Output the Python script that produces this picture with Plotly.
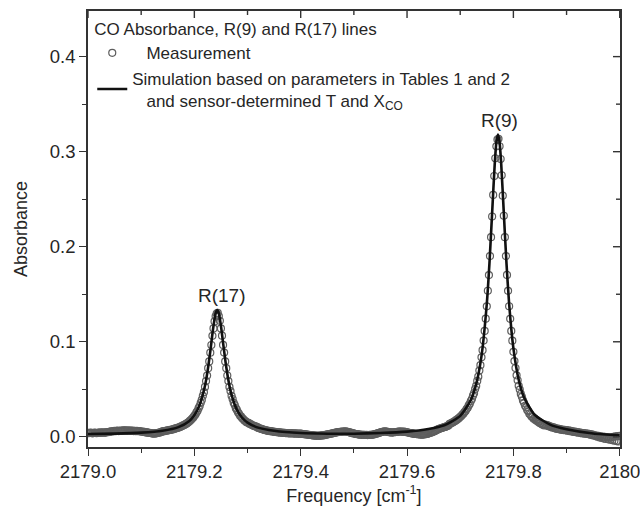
import numpy as np
import plotly.graph_objects as go

# Measured CO absorbance, sampled on a uniform frequency grid (cm^-1)
meas_start = 2179.0
meas_step = 0.002
meas_abs = [
    0.0042, 0.0039, 0.0044, 0.0041, 0.0037, 0.0040, 0.0045, 0.0043, 0.0038, 0.0041,
    0.0043, 0.0046, 0.0041, 0.0044, 0.0048, 0.0045, 0.0042, 0.0047, 0.0050, 0.0048,
    0.0052, 0.0055, 0.0058, 0.0056, 0.0060, 0.0063, 0.0059, 0.0062, 0.0065, 0.0061,
    0.0064, 0.0066, 0.0062, 0.0067, 0.0065, 0.0069, 0.0066, 0.0063, 0.0067, 0.0064,
    0.0066, 0.0062, 0.0065, 0.0061, 0.0064, 0.0060, 0.0063, 0.0059, 0.0061, 0.0058,
    0.0056, 0.0053, 0.0055, 0.0050, 0.0047, 0.0049, 0.0044, 0.0041, 0.0043, 0.0039,
    0.0037, 0.0034, 0.0036, 0.0033, 0.0038, 0.0040, 0.0042, 0.0045, 0.0047, 0.0050,
    0.0057, 0.0060, 0.0059, 0.0064, 0.0065, 0.0069, 0.0068, 0.0073, 0.0072, 0.0077,
    0.0081, 0.0082, 0.0088, 0.0089, 0.0094, 0.0098, 0.0100, 0.0107, 0.0110, 0.0117,
    0.0123, 0.0127, 0.0136, 0.0141, 0.0151, 0.0158, 0.0170, 0.0179, 0.0193, 0.0204,
    0.0221, 0.0234, 0.0257, 0.0274, 0.0301, 0.0324, 0.0358, 0.0388, 0.0431, 0.0470,
    0.0525, 0.0587, 0.0644, 0.0722, 0.0793, 0.0885, 0.0966, 0.1063, 0.1141, 0.1214,
    0.1268, 0.1297, 0.1304, 0.1270, 0.1221, 0.1141, 0.1064, 0.0967, 0.0886, 0.0793,
    0.0722, 0.0645, 0.0587, 0.0525, 0.0481, 0.0431, 0.0398, 0.0358, 0.0334, 0.0301,
    0.0283, 0.0258, 0.0243, 0.0222, 0.0212, 0.0195, 0.0187, 0.0172, 0.0166, 0.0153,
    0.0150, 0.0147, 0.0136, 0.0134, 0.0124, 0.0122, 0.0114, 0.0112, 0.0105, 0.0104,
    0.0094, 0.0090, 0.0087, 0.0083, 0.0079, 0.0076, 0.0072, 0.0070, 0.0066, 0.0064,
    0.0062, 0.0059, 0.0061, 0.0056, 0.0055, 0.0053, 0.0052, 0.0050, 0.0049, 0.0047,
    0.0046, 0.0044, 0.0045, 0.0042, 0.0041, 0.0043, 0.0040, 0.0038, 0.0039, 0.0037,
    0.0036, 0.0038, 0.0035, 0.0037, 0.0034, 0.0036, 0.0033, 0.0035, 0.0032, 0.0034,
    0.0033, 0.0031, 0.0030, 0.0028, 0.0027, 0.0025, 0.0024, 0.0022, 0.0021, 0.0019,
    0.0018, 0.0016, 0.0015, 0.0013, 0.0012, 0.0011, 0.0012, 0.0010, 0.0013, 0.0012,
    0.0015, 0.0017, 0.0016, 0.0020, 0.0022, 0.0025, 0.0027, 0.0030, 0.0032, 0.0035,
    0.0037, 0.0040, 0.0042, 0.0045, 0.0047, 0.0049, 0.0051, 0.0053, 0.0052, 0.0055,
    0.0056, 0.0054, 0.0057, 0.0055, 0.0053, 0.0050, 0.0047, 0.0044, 0.0040, 0.0038,
    0.0035, 0.0032, 0.0030, 0.0028, 0.0026, 0.0024, 0.0023, 0.0021, 0.0022, 0.0020,
    0.0021, 0.0019, 0.0020, 0.0018, 0.0019, 0.0021, 0.0020, 0.0022, 0.0024, 0.0026,
    0.0029, 0.0032, 0.0036, 0.0040, 0.0043, 0.0047, 0.0050, 0.0053, 0.0055, 0.0057,
    0.0056, 0.0054, 0.0051, 0.0049, 0.0047, 0.0046, 0.0045, 0.0047, 0.0048, 0.0050,
    0.0051, 0.0053, 0.0055, 0.0054, 0.0056, 0.0055, 0.0053, 0.0054, 0.0052, 0.0050,
    0.0048, 0.0045, 0.0043, 0.0040, 0.0038, 0.0035, 0.0033, 0.0031, 0.0030, 0.0029,
    0.0028, 0.0026, 0.0025, 0.0024, 0.0023, 0.0024, 0.0025, 0.0027, 0.0029, 0.0031,
    0.0036, 0.0039, 0.0042, 0.0046, 0.0050, 0.0055, 0.0060, 0.0066, 0.0072, 0.0078,
    0.0083, 0.0087, 0.0090, 0.0095, 0.0097, 0.0103, 0.0104, 0.0111, 0.0113, 0.0120,
    0.0136, 0.0139, 0.0147, 0.0150, 0.0160, 0.0163, 0.0175, 0.0179, 0.0191, 0.0197,
    0.0211, 0.0218, 0.0234, 0.0242, 0.0260, 0.0272, 0.0292, 0.0306, 0.0330, 0.0348,
    0.0377, 0.0398, 0.0433, 0.0459, 0.0502, 0.0536, 0.0588, 0.0633, 0.0697, 0.0754,
    0.0836, 0.0912, 0.1013, 0.1114, 0.1243, 0.1373, 0.1537, 0.1702, 0.1902, 0.2101,
    0.2318, 0.2545, 0.2744, 0.2931, 0.3056, 0.3128, 0.3135, 0.3057, 0.2923, 0.2752,
    0.2537, 0.2326, 0.2101, 0.1902, 0.1703, 0.1536, 0.1374, 0.1242, 0.1114, 0.1012,
    0.0894, 0.0797, 0.0724, 0.0647, 0.0595, 0.0537, 0.0497, 0.0451, 0.0421, 0.0383,
    0.0358, 0.0327, 0.0310, 0.0281, 0.0268, 0.0244, 0.0235, 0.0214, 0.0208, 0.0190,
    0.0192, 0.0175, 0.0173, 0.0158, 0.0157, 0.0143, 0.0143, 0.0130, 0.0129, 0.0119,
    0.0128, 0.0121, 0.0123, 0.0112, 0.0114, 0.0103, 0.0106, 0.0096, 0.0099, 0.0089,
    0.0090, 0.0083, 0.0086, 0.0079, 0.0081, 0.0074, 0.0077, 0.0071, 0.0073, 0.0068,
    0.0070, 0.0064, 0.0067, 0.0060, 0.0062, 0.0055, 0.0058, 0.0051, 0.0054, 0.0047,
    0.0050, 0.0044, 0.0047, 0.0040, 0.0043, 0.0036, 0.0040, 0.0033, 0.0037, 0.0030,
    0.0034, 0.0026, 0.0030, 0.0020, 0.0025, 0.0014, 0.0019, 0.0008, 0.0014, 0.0002,
    0.0010, -0.0006, 0.0005, -0.0012, 0.0002, -0.0018, 0.0000, -0.0022, -0.0004, -0.0026,
    -0.0008, -0.0030, -0.0005, -0.0035, 0.0000, -0.0040, 0.0004, -0.0045, 0.0008, -0.0048,
    0.0010,
]
meas_freq = meas_start + meas_step * np.arange(len(meas_abs))

# Simulated spectrum (line)
sim_freq = [
    2179.00, 2179.05, 2179.10, 2179.14, 2179.17, 2179.19, 2179.20, 2179.21, 2179.22,
    2179.225, 2179.23, 2179.235, 2179.24, 2179.243, 2179.246, 2179.25, 2179.255,
    2179.26, 2179.265, 2179.27, 2179.28, 2179.29, 2179.30, 2179.32, 2179.35, 2179.40,
    2179.45, 2179.50, 2179.55, 2179.60, 2179.64, 2179.67, 2179.70, 2179.72, 2179.73,
    2179.74, 2179.75, 2179.755, 2179.76, 2179.765, 2179.768, 2179.771, 2179.774,
    2179.777, 2179.782, 2179.787, 2179.792, 2179.80, 2179.81, 2179.82, 2179.84,
    2179.87, 2179.90, 2179.95, 2180.00,
]
sim_abs = [
    0.0029, 0.0034, 0.0044, 0.0064, 0.0102, 0.0165, 0.0228, 0.0336, 0.0537,
    0.0696, 0.0900, 0.1127, 0.1299, 0.1333, 0.1299, 0.1169, 0.0946,
    0.0734, 0.0566, 0.0442, 0.0286, 0.0201, 0.0150, 0.0097, 0.0064, 0.0040,
    0.0033, 0.0033, 0.0040, 0.0055, 0.0083, 0.0122, 0.0220, 0.0387, 0.0554,
    0.0849, 0.1400, 0.1827, 0.2354, 0.2879, 0.3099, 0.3180, 0.3099,
    0.2879, 0.2354, 0.1827, 0.1400, 0.0934, 0.0600, 0.0414, 0.0232,
    0.0126, 0.0080, 0.0035, 0.0015,
]

# Line assignments at the two absorption peaks
peak_labels = ["R(17)", "R(9)"]
peak_freq = [2179.243, 2179.771]
peak_abs = [0.1333, 0.3180]

x_tickvals = [2179.0, 2179.2, 2179.4, 2179.6, 2179.8, 2180.0]
x_ticktext = ["2179.0", "2179.2", "2179.4", "2179.6", "2179.8", "2180"]
x_minorvals = [2179.1, 2179.3, 2179.5, 2179.7, 2179.9]
y_tickvals = [0.0, 0.1, 0.2, 0.3, 0.4]
y_ticktext = ["0.0", "0.1", "0.2", "0.3", "0.4"]
y_minorvals = [0.05, 0.15, 0.25, 0.35]

x_range = [2179.0, 2180.0005]
y_range = [-0.0107, 0.448]

ink = "#262626"
frame = "#333333"
font_family = "Liberation Sans, Arial, sans-serif"
major_len, minor_len = 7, 4

W, H = 640, 524
margin = dict(l=88, r=20, t=11, b=77)
plot_w = W - margin["l"] - margin["r"]
plot_h = H - margin["t"] - margin["b"]

fig = go.Figure()

fig.add_trace(go.Scatter(
    x=meas_freq, y=meas_abs, mode="markers",
    name="\u00a0\u00a0\u00a0Measurement",
    marker=dict(symbol="circle-open", size=7, color="#5e5e5e", line=dict(width=1.2)),
))

fig.add_trace(go.Scatter(
    x=sim_freq, y=sim_abs, mode="lines",
    name="Simulation based on parameters in Tables 1 and 2<br>"
         "\u00a0\u00a0\u00a0and sensor-determined T and X<sub>CO</sub>",
    line=dict(color="#111111", width=2.6, shape="spline", smoothing=0.6),
))

for label, fx, fy, dx in zip(peak_labels, peak_freq, peak_abs, [5, 2]):
    fig.add_annotation(
        x=fx, y=fy, text=label, showarrow=False,
        xanchor="center", yanchor="bottom", xshift=dx, yshift=2,
        font=dict(size=19, color=ink, family=font_family),
    )

# Inward-pointing ticks along the mirrored top and right frame edges
for vals, length in ((x_tickvals, major_len), (x_minorvals, minor_len)):
    for v in vals:
        fig.add_shape(type="line", xref="x", yref="paper",
                      x0=v, x1=v, y0=1.0, y1=1.0 - length / plot_h,
                      line=dict(color=frame, width=1.4), layer="above")
for vals, length in ((y_tickvals, major_len), (y_minorvals, minor_len)):
    for v in vals:
        fig.add_shape(type="line", xref="paper", yref="y",
                      x0=1.0, x1=1.0 - length / plot_w, y0=v, y1=v,
                      line=dict(color=frame, width=1.4), layer="above")

common_axis = dict(
    showgrid=False, zeroline=False, automargin=False,
    tickcolor=frame, tickwidth=1.3, ticklen=major_len,
    showline=True, linecolor=frame, linewidth=1.5, mirror=True,
)

fig.update_layout(
    width=W, height=H,
    margin=margin,
    paper_bgcolor="white", plot_bgcolor="white",
    font=dict(family=font_family, color=ink),
    showlegend=True,
    legend=dict(
        x=0.008, y=0.995, xanchor="left", yanchor="top",
        bgcolor="rgba(0,0,0,0)", borderwidth=0,
        font=dict(size=17, color=ink, family=font_family),
        title=dict(text="CO Absorbance, R(9) and R(17) lines",
                   font=dict(size=17, color=ink, family=font_family)),
        tracegroupgap=0, itemwidth=30,
    ),
    xaxis=dict(
        range=x_range, tickmode="array", tickvals=x_tickvals, ticktext=x_ticktext,
        ticks="outside", tickfont=dict(size=18.5, color=ink), ticklabeloverflow="allow",
        minor=dict(tickmode="array", tickvals=x_minorvals, ticks="outside",
                   ticklen=minor_len, tickcolor=frame, tickwidth=1.2),
        title=dict(text="Frequency [cm<sup>-1</sup>]", font=dict(size=18, color=ink),
                   standoff=8),
        **common_axis,
    ),
    yaxis=dict(
        range=y_range, tickmode="array", tickvals=y_tickvals, ticktext=y_ticktext,
        ticks="outside", tickfont=dict(size=18.5, color=ink),
        minor=dict(tickmode="array", tickvals=y_minorvals, ticks="outside",
                   ticklen=minor_len, tickcolor=frame, tickwidth=1.2),
        title=dict(text="Absorbance", font=dict(size=18, color=ink), standoff=18),
        **common_axis,
    ),
)

fig.write_html("out.html")
